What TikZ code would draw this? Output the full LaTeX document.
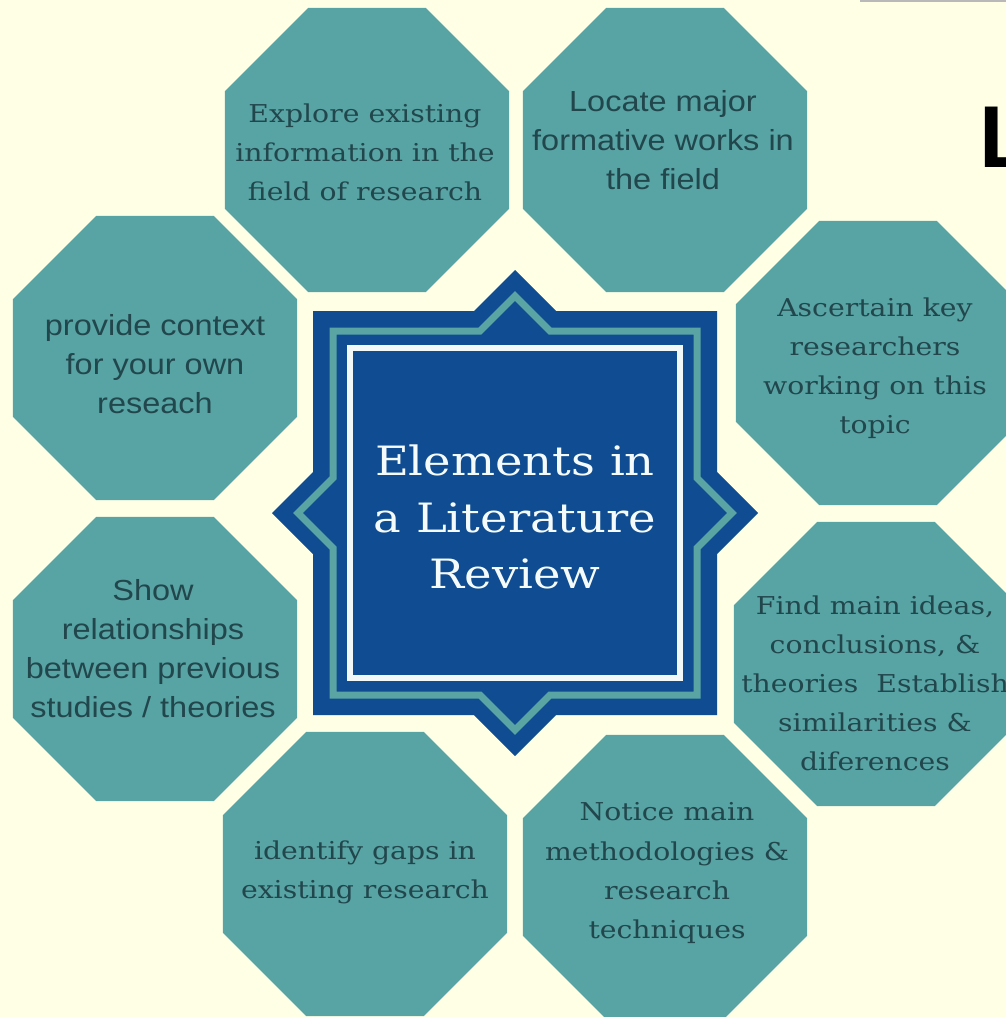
\documentclass[tikz,border=0pt]{standalone}
\usepackage{fontspec}
\usetikzlibrary{shapes.geometric}

\newfontfamily\slabfont[FakeStretch=1.15]{DejaVu Serif}
\newfontfamily\plainfont[FakeStretch=1.12]{Liberation Sans}
\newfontfamily\headfont{Liberation Sans}

\definecolor{paper}{HTML}{FFFFE6}
\definecolor{tile}{HTML}{58A3A4}
\definecolor{ink}{HTML}{21474D}
\definecolor{navy}{HTML}{0F4C91}
\definecolor{ribbon}{HTML}{5AA4A4}

% eight pointed star: square half side #1, diamond half diagonal #2
\newcommand{\eightstar}[2]{(#2,0) -- (#1,#2-#1) -- (#1,#1) -- (#2-#1,#1) -- (0,#2)
  -- (#1-#2,#1) -- (-#1,#1) -- (-#1,#2-#1) -- (-#2,0) -- (-#1,#1-#2) -- (-#1,-#1)
  -- (#1-#2,-#1) -- (0,-#2) -- (#2-#1,-#1) -- (#1,-#1) -- (#1,#1-#2) -- cycle}

\begin{document}
\begin{tikzpicture}[x=0.02cm,y=-0.02cm,
		octo/.style={regular polygon,regular polygon sides=8,minimum size=6.15cm,
			inner sep=0pt,fill=tile},
		slab/.style={ink,align=center,inner sep=0pt,
			font=\slabfont\fontsize{14}{22.2}\selectfont},
		sans/.style={ink,align=center,inner sep=0pt,
			font=\plainfont\fontsize{16.5}{22.2}\selectfont}]
		\fill[paper] (0,0) rectangle (1006,1017);
		\clip (0,0) rectangle (1006,1017);
		\fill[gray!55] (860,0) rectangle (1006,2.5);
		\node[anchor=north west,inner sep=0pt,font=\headfont\bfseries\fontsize{50}{50}\selectfont] (head) at (979,107) {L};

		\begin{scope}[nodes=octo]
		\node (explore) at (367,150) {};
		\node (locate) at (665,150) {};
		\node (ascertain) at (878,363) {};
		\node (findmain) at (876,664) {};
		\node (notice) at (665,877) {};
		\node (identify) at (365,874) {};
		\node (show) at (155,659) {};
		\node (provide) at (155,358) {};
		\end{scope}

		\node[slab] (explore-t) at (365,152) {Explore existing\\information in the\\field of research};
		\node[sans] (locate-t) at (663,140) {Locate major\\formative works in\\the field};
		\node[slab] (ascertain-t) at (875,368) {Ascertain key\\researchers\\working on this\\topic};
		\node[slab] (findmain-t) at (875,683) {Find main ideas,\\conclusions, \&\\theories~ Establish\\similarities \&\\diferences};
		\node[slab] (notice-t) at (667,873) {Notice main\\methodologies \&\\research\\techniques};
		\node[slab] (identify-t) at (365,872) {identify gaps in\\existing research};
		\node[sans] (show-t) at (153,649) {Show\\relationships\\between previous\\studies / theories};
		\node[sans] (provide-t) at (155,364) {provide context\\for your own\\reseach};

		\begin{scope}[shift={(515,513)}]
		\fill[navy] \eightstar{202}{243};
		\draw[ribbon,line width=0.14cm,line join=miter] \eightstar{182}{217};
		\draw[white!92!ribbon,line width=0.12cm] (-165,-165) rectangle (165,165);
		\node[white!94!ribbon,align=center,inner sep=0pt,
			font=\slabfont\fontsize{23}{32.4}\selectfont] (review) at (0,4) {Elements in\\a Literature\\Review};
		\end{scope}
\end{tikzpicture}
\end{document}
